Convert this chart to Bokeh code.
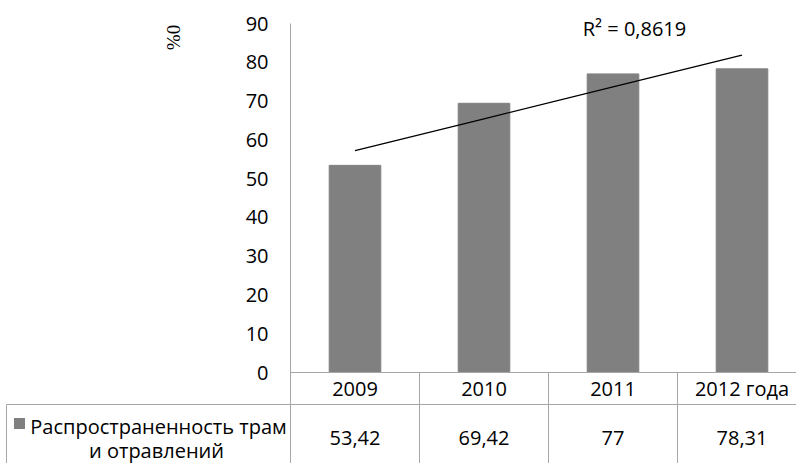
from bokeh.plotting import figure
from bokeh.models import Range1d, FixedTicker, LinearAxis
from bokeh.core.properties import value
from bokeh.embed import file_html
from bokeh.resources import INLINE
import numpy as np

# data
categories = ["2009", "2010", "2011", "2012 года"]
prevalence = [53.42, 69.42, 77, 78.31]
value_labels = ["53,42", "69,42", "77", "78,31"]
series_name = ["Распространенность трам", "и отравлений"]
y_ticks = [0, 10, 20, 30, 40, 50, 60, 70, 80, 90]
unit_label = "%0"

# layout constants (pixels)
W, H = 796, 463
LEFT = 290          # y axis position
TOP = 23            # value 90
ZERO = 372          # value 0
COL_W = 129         # width of one category column
FONT = "Open Sans"
FS = "20px"
LINE_COLOR = "#a6a6a6"
BAR_COLOR = "#808080"

Y_MAX = 90
PX_PER_UNIT = (ZERO - TOP) / Y_MAX


def xd(px):
    """screen x (px from left) -> data x"""
    return -0.5 + (px - LEFT) / COL_W


def yd(px):
    """screen y (px from top) -> data y"""
    return (ZERO - px) / PX_PER_UNIT


xs = np.arange(len(categories))

# linear trend and its R^2
slope, intercept = np.polyfit(xs + 1, prevalence, 1)
fit = slope * (xs + 1) + intercept
ss_res = np.sum((np.array(prevalence) - fit) ** 2)
ss_tot = np.sum((np.array(prevalence) - np.mean(prevalence)) ** 2)
r2 = 1 - ss_res / ss_tot

p = figure(width=W, height=H, x_range=Range1d(xd(0), xd(W)), y_range=Range1d(yd(H), yd(0)),
           output_backend="svg", toolbar_location=None,
           x_axis_location=None, y_axis_location=None, min_border=0)
p.outline_line_color = None
p.grid.visible = False

# value axis, placed at the left edge of the first category column
yax = LinearAxis(fixed_location=-0.5, ticker=FixedTicker(ticks=y_ticks), bounds=(yd(H), Y_MAX))
yax.axis_line_color = LINE_COLOR
yax.major_tick_out = 0
yax.major_tick_in = 0
yax.minor_tick_out = 0
yax.minor_tick_in = 0
yax.major_label_standoff = 22
yax.major_label_text_font = FONT
yax.major_label_text_font_size = FS
yax.major_label_text_color = "#000000"
p.add_layout(yax, "left")

# bars and trend line
p.vbar(x=xs, top=prevalence, width=0.40, color=BAR_COLOR)
p.line(x=xs, y=fit, line_color="#000000", line_width=1.3)

r2_text = "R² = " + f"{r2:.4f}".replace(".", ",")
p.text(x=[xd(634)], y=[yd(28)], text=[r2_text], text_align="center",
       text_baseline="alphabetic", text_font=value(FONT), text_font_size=FS,
       text_color="#000000")

# unit label, rotated
p.text(x=[xd(173)], y=[yd(37)], text=[unit_label], angle=np.pi / 2,
       text_align="center", text_baseline="middle",
       text_font=value("Liberation Serif"), text_font_size="19px", text_color="#000000")

# ---- data table under the chart ----
x_right = xd(W) + 1
x_table_left = xd(6)
row_y = yd(404)
bounds = [b + 0.5 for b in range(len(categories))]
p.segment(x0=bounds, y0=[0] * len(bounds), x1=bounds, y1=[yd(H)] * len(bounds),
          line_color=LINE_COLOR, line_width=1)
p.segment(x0=[-0.5, x_table_left, x_table_left], y0=[0, row_y, row_y],
          x1=[x_right, x_right, x_table_left], y1=[0, row_y, yd(H)],
          line_color=LINE_COLOR, line_width=1)

p.text(x=xs, y=[yd(388)] * len(xs), text=categories,
       text_align="center", text_baseline="alphabetic",
       text_font=value(FONT), text_font_size=FS, text_color="#000000")
p.text(x=xs, y=[yd(437)] * len(xs), text=value_labels,
       text_align="center", text_baseline="alphabetic",
       text_font=value(FONT), text_font_size=FS, text_color="#000000")

p.scatter(x=[xd(19)], y=[yd(423)], marker="square", size=11,
          color=BAR_COLOR, line_color=None)
p.text(x=[xd(158), xd(156)], y=[yd(426), yd(450)], text=series_name,
       text_align="center", text_baseline="alphabetic",
       text_font=value(FONT), text_font_size=FS, text_color="#000000")

open("out.html", "w").write(file_html(p, INLINE))
